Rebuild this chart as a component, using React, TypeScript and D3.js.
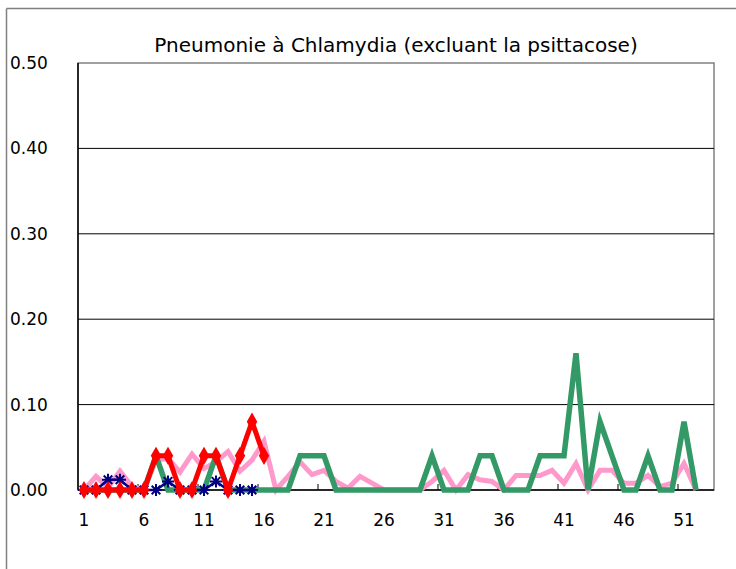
import React from 'react';
import * as d3 from 'd3';

const weeks = d3.range(1, 54);
const tickWeeks = [1, 6, 11, 16, 21, 26, 31, 36, 41, 46, 51];
const yTicks = [0, 0.1, 0.2, 0.3, 0.4, 0.5];

const pinkValues = [
  0, 0.016, 0.003, 0.022, 0.004, 0, 0.035, 0.037, 0.021, 0.042,
  0.025, 0.033, 0.045, 0.022, 0.035, 0.057, 0, 0.016, 0.033, 0.018,
  0.023, 0.01, 0.002, 0.016, 0.008, 0, 0, 0, 0, 0.01,
  0.023, 0, 0.018, 0.012, 0.01, 0, 0.017, 0.017, 0.017, 0.023,
  0.008, 0.031, 0, 0.023, 0.023, 0.008, 0.008, 0.017, 0.004, 0.008,
  0.031, 0,
];
const greenValues = [
  0, 0, 0, 0, 0, 0, 0.04, 0, 0, 0,
  0, 0.04, 0, 0, 0, 0, 0, 0, 0.04, 0.04,
  0.04, 0, 0, 0, 0, 0, 0, 0, 0, 0.04,
  0, 0, 0, 0.04, 0.04, 0, 0, 0, 0.04, 0.04,
  0.04, 0.16, 0, 0.08, 0.04, 0, 0, 0.04, 0, 0,
  0.08, 0,
];
const navyValues = [0, 0, 0.012, 0.012, 0, 0, 0, 0.01, 0, 0, 0, 0.01, 0, 0, 0];
const redValues = [0, 0, 0, 0, 0, 0, 0.04, 0.04, 0, 0, 0.04, 0.04, 0, 0.04, 0.08, 0.04];

const W = 736;
const H = 569;
const plot = { left: 78, right: 714, top: 63, bottom: 490 };
const font = "'DejaVu Sans', sans-serif";

const App: React.FC = () => {
  const x = d3.scaleBand<number>().domain(weeks).range([plot.left, plot.right]).padding(0);
  const cx = (w: number) => (x(w) || 0) + x.bandwidth() / 2;
  const y = d3.scaleLinear().domain([0, 0.5]).range([plot.bottom, plot.top]);

  const line = d3.line<number>()
    .x((_, i) => cx(i + 1))
    .y(d => y(d));

  const diamond = d3.symbol().type(d3.symbolDiamond).size(95)();
  const star = 'M-6,0L6,0M0,-6L0,6M-4.3,-4.3L4.3,4.3M-4.3,4.3L4.3,-4.3';

  return (
    <svg width={W} height={H} style={{ position: 'absolute', left: 0, top: 0, background: '#fff' }}>
      {/* outer frame (clipped) */}
      <line x1={6.5} y1={8.5} x2={6.5} y2={H} stroke="#808080" strokeWidth={1.5} />
      <line x1={6.5} y1={8.5} x2={W} y2={8.5} stroke="#808080" strokeWidth={1.5} />

      <text x={396} y={52} textAnchor="middle" fontFamily={font} fontSize={20} fill="#000">
        Pneumonie à Chlamydia (excluant la psittacose)
      </text>

      {/* plot box + gridlines */}
      <rect x={plot.left} y={plot.top} width={plot.right - plot.left} height={plot.bottom - plot.top}
        fill="none" stroke="#808080" strokeWidth={1.5} />
      {yTicks.filter(t => t > 0 && t < 0.5).map(t => (
        <line key={t} x1={plot.left} x2={plot.right} y1={y(t)} y2={y(t)} stroke="#000" strokeWidth={1} />
      ))}
      <line x1={plot.left} x2={plot.left} y1={plot.top} y2={plot.bottom} stroke="#000" strokeWidth={1.5} />
      <line x1={plot.left} x2={plot.right} y1={plot.bottom} y2={plot.bottom} stroke="#000" strokeWidth={1.5} />

      {yTicks.map(t => (
        <text key={t} x={10} y={y(t) + 6} fontFamily={font} fontSize={17} fill="#000">
          {t.toFixed(2)}
        </text>
      ))}

      {tickWeeks.map(w => (
        <g key={w}>
          {w > 1 && (
            <line x1={x(w) || 0} x2={x(w) || 0} y1={plot.bottom} y2={plot.bottom - 6} stroke="#000" strokeWidth={1} />
          )}
          <text x={cx(w)} y={526} textAnchor="middle" fontFamily={font} fontSize={17} fill="#000">
            {w}
          </text>
        </g>
      ))}

      <path d={line(pinkValues) || ''} fill="none" stroke="#FF99CC" strokeWidth={5} strokeLinejoin="miter" />
      <path d={line(greenValues) || ''} fill="none" stroke="#339966" strokeWidth={5.5} strokeLinejoin="miter" />
      <path d={line(navyValues) || ''} fill="none" stroke="#000080" strokeWidth={2.5} />
      {navyValues.map((v, i) => (
        <path key={i} d={star} transform={`translate(${cx(i + 1)},${y(v)})`} stroke="#000080" strokeWidth={2} fill="none" />
      ))}
      <path d={line(redValues) || ''} fill="none" stroke="#FF0000" strokeWidth={5} />
      {redValues.map((v, i) => (
        <path key={i} d={diamond || ''} transform={`translate(${cx(i + 1)},${y(v)})`} fill="#FF0000" />
      ))}
    </svg>
  );
};

export default App;
